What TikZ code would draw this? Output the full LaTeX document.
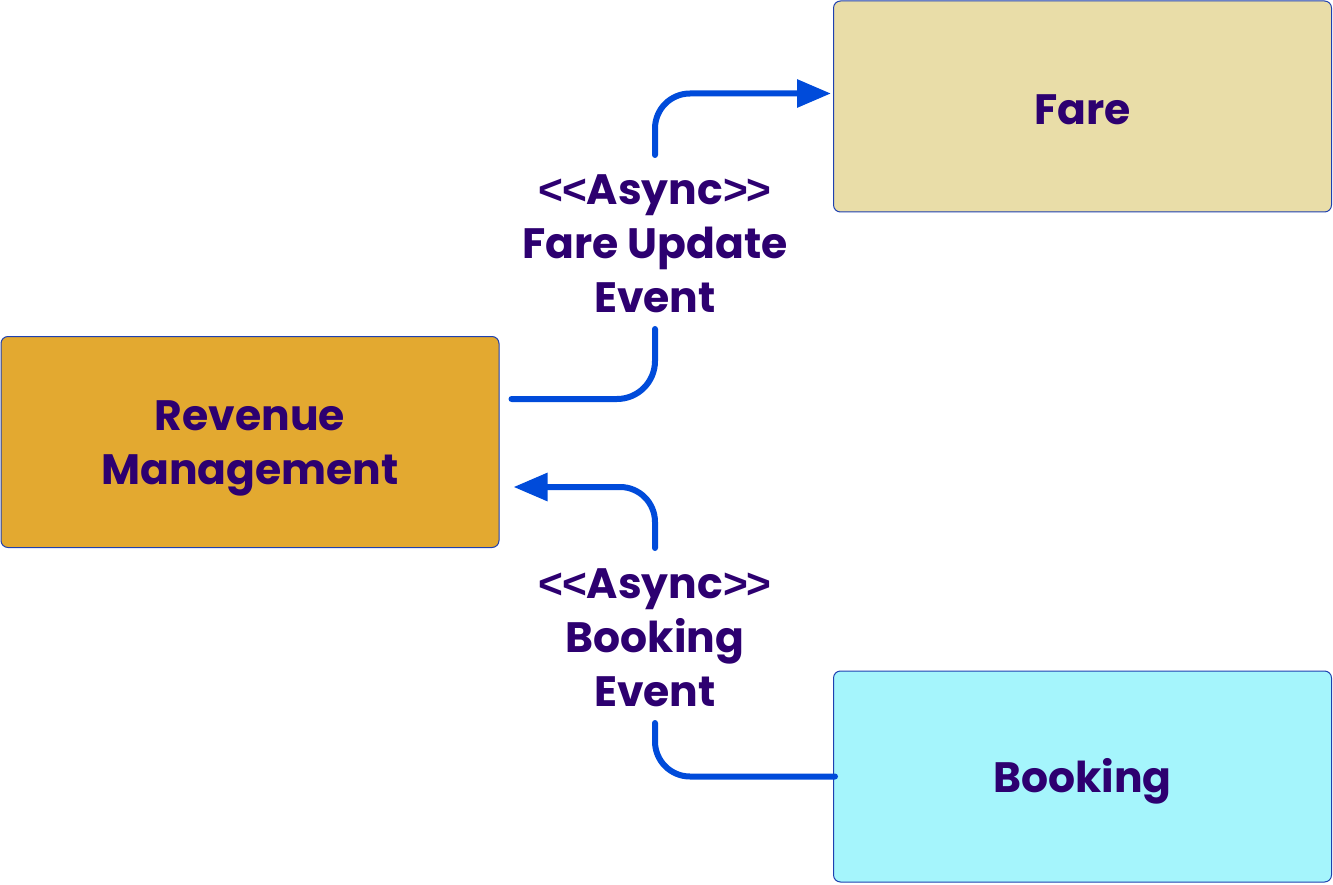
\documentclass[tikz,border=0pt]{standalone}
\usepackage{fontspec}
\setmainfont{Poppins}[Ligatures=NoCommon]
\newfontfamily\chev{Liberation Sans}
\usetikzlibrary{arrows.meta,calc}
\definecolor{txt}{HTML}{2D0070}
\definecolor{edge}{HTML}{1E40B0}
\definecolor{conn}{HTML}{004BDA}
\definecolor{farefill}{HTML}{E9DDA8}
\definecolor{rmfill}{HTML}{E3A930}
\definecolor{bookfill}{HTML}{A5F5FC}
\newcommand{\lt}{{\chev <\kern-1pt<}}
\newcommand{\gt}{{\chev >\kern-1pt>}}
\newcommand{\low}[2]{\raisebox{-#1}[\height][\depth]{#2}}
\tikzset{
  box/.style={draw=edge, line width=1pt, rounded corners=7pt, minimum width=498pt, minimum height=211pt,
    inner sep=0pt, text=txt, font=\fontsize{42.5}{54}\selectfont\bfseries, align=center},
  lbl/.style={text=txt, font=\fontsize{42.5}{54}\selectfont\bfseries, align=center, inner sep=0pt},
  link/.style={draw=conn, line width=6pt, line cap=round},
  tip/.style={-{Triangle[length=34pt,width=27pt]}}
}
\begin{document}
\begin{tikzpicture}[x=1pt,y=-1pt]
\useasboundingbox (0,0) rectangle (1333,885);
\node[box, fill=farefill] (fare) at (1082.5,106.5) {\low{3pt}{Fare}};
\node[box, fill=rmfill] (rm) at (250,442) {\low{6pt}{\parbox{400pt}{\centering Revenue\\Management}}};
\node[box, fill=bookfill] (book) at (1082.5,776.5) {\low{5pt}{Booking}};
\node[lbl] (l1) at (655,244) {\lt Async\gt\\Fare Update\\Event};
\node[lbl] (l2) at (655,638) {\lt Async\gt\\Booking\\Event};
\coordinate (l1b) at ($(l1.center)+(0,85)$);
\coordinate (l1t) at ($(l1.center)+(0,-89)$);
\coordinate (l2b) at ($(l2.center)+(0,85)$);
\coordinate (l2t) at ($(l2.center)+(0,-90)$);
\draw[link, rounded corners=38pt] ($(rm.east)+(12,-43)$) -| (l1b);
\draw[link, tip, rounded corners=35pt] (l1t) |- ($(fare.west)+(-2,-13)$);
\draw[link, rounded corners=35pt] ($(book.west)+(2,0)$) -| (l2b);
\draw[link, tip, rounded corners=35pt] (l2t) |- ($(rm.east)+(14,45)$);
\end{tikzpicture}
\end{document}
